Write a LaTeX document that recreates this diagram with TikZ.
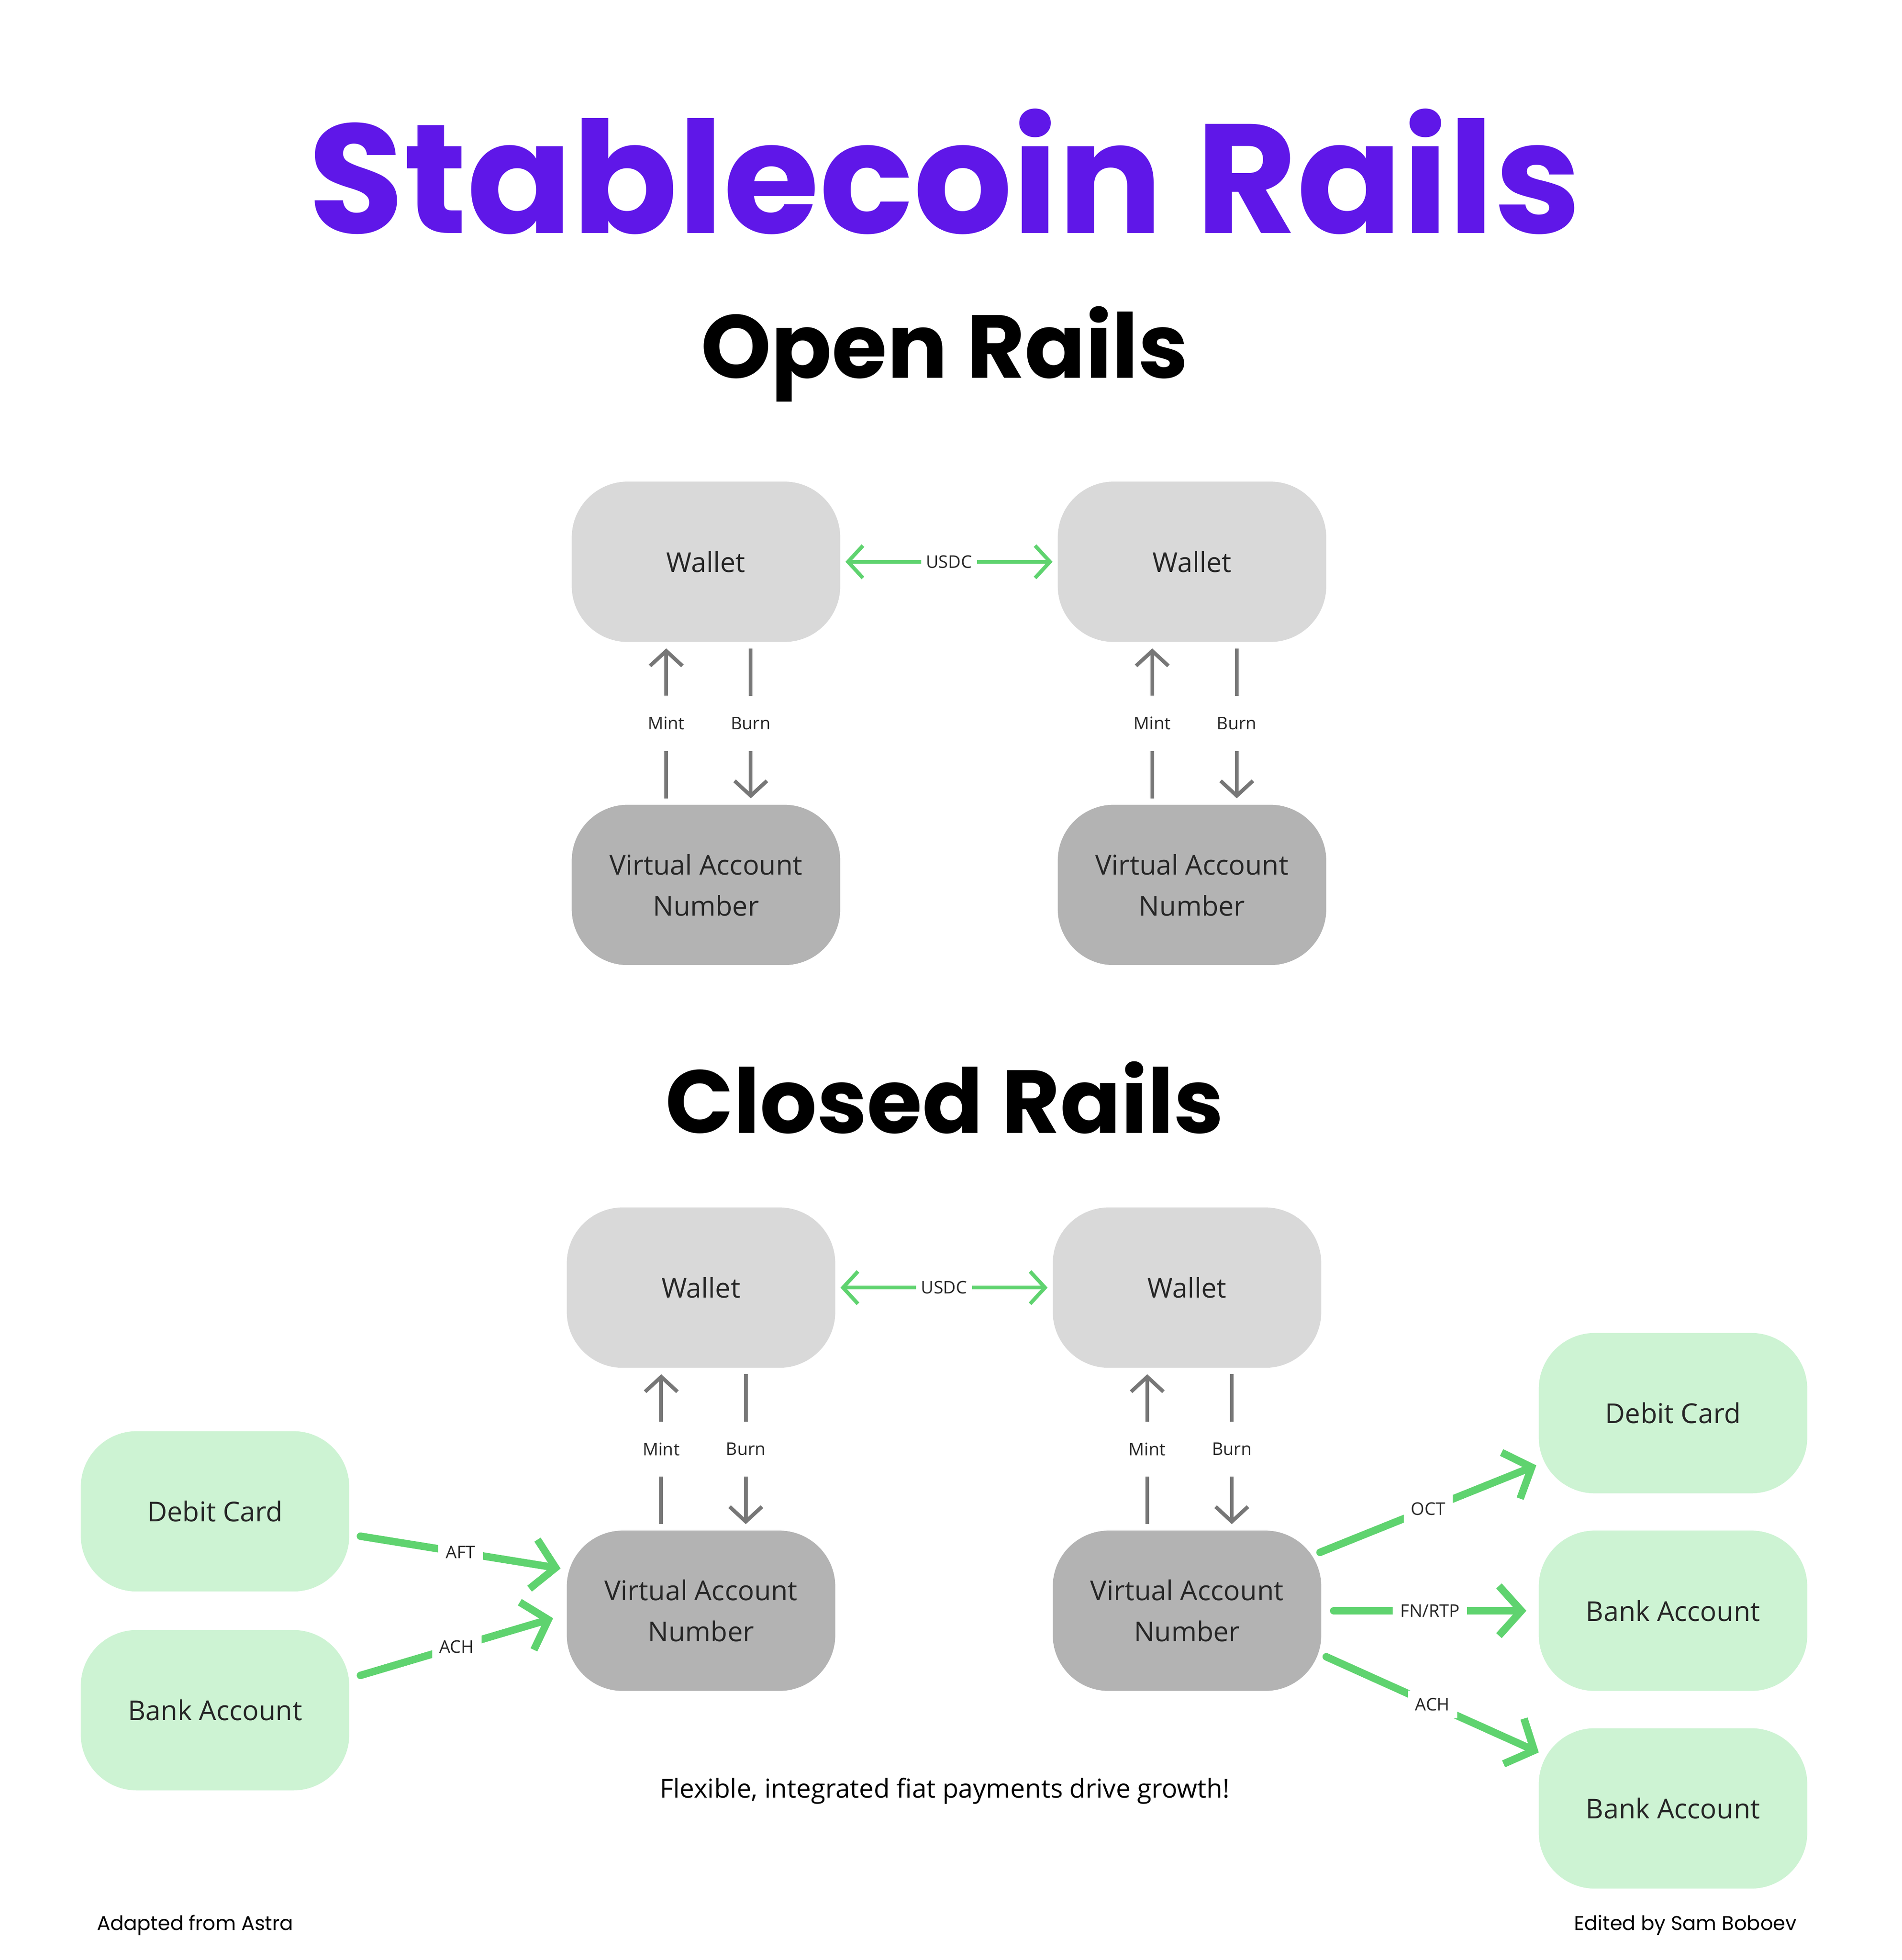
\documentclass[tikz,border=0pt]{standalone}
\usepackage{fontspec}
\setmainfont{Open Sans}
\newfontfamily\pop{Poppins}
\usetikzlibrary{arrows.meta}
\definecolor{purp}{HTML}{5F17E8}
\definecolor{wal}{HTML}{D9D9D9}
\definecolor{van}{HTML}{B3B3B3}
\definecolor{gbox}{HTML}{CDF3D3}
\definecolor{garr}{HTML}{5FD36F}
\definecolor{gray}{HTML}{777777}
\tikzset{
 box/.style={rounded corners=45pt,minimum width=216pt,minimum height=129pt,align=center,font=\fontsize{22}{33}\selectfont,text=black!85},
 wallet/.style={box,fill=wal},
 vanb/.style={box,fill=van},
 gb/.style={box,fill=gbox},
 gthin/.style={draw=garr,line width=3pt,-{Straight Barb[length=12pt,width=26pt]}},
 gray arr/.style={draw=gray,line width=3pt,-{Straight Barb[length=12pt,width=26pt]}},
 gthick/.style={draw=garr,line width=6pt,line cap=round,-{Straight Barb[length=18pt,width=40pt,line width=6pt]}},
 lab/.style={fill=white,inner sep=4pt,font=\fontsize{14}{16}\selectfont,text=black!85},
}
\begin{document}
\begin{tikzpicture}[x=1pt,y=-1pt]
\useasboundingbox[fill=white] (0,0) rectangle (1530,1577);
\node[font=\pop\bfseries\fontsize{125}{130}\selectfont,text=purp] (t) at (760,138) {Stablecoin Rails};
\node[font=\pop\bfseries\fontsize{72}{80}\selectfont] (o) at (760,285) {Open Rails};
\node[font=\pop\bfseries\fontsize{72}{80}\selectfont] (c) at (760,883) {Closed Rails};
\foreach \n/\x/\y in {a/568/452,b/959/452,c/564/1036,d/955/1036}{\node[wallet] (w\n) at (\x,\y) {Wallet};}
\foreach \n/\x/\y in {a/568/712,b/959/712,c/564/1296,d/955/1296}{\node[vanb] (v\n) at (\x,\y) {Virtual Account\\Number};}
\draw[gthin,{Straight Barb[length=12pt,width=26pt]}-{Straight Barb[length=12pt,width=26pt]}] ([xshift=4pt]wa.east) -- node[lab]{USDC} ([xshift=-4pt]wb.west);
\draw[gthin,{Straight Barb[length=12pt,width=26pt]}-{Straight Barb[length=12pt,width=26pt]}] ([xshift=4pt]wc.east) -- node[lab]{USDC} ([xshift=-4pt]wd.west);
\foreach \w/\v in {a/a,b/b,c/c,d/d}{
 \draw[gray arr] ([xshift=-32pt,yshift=5pt]v\v.north) -- node[lab,inner ysep=17pt]{Mint} ([xshift=-32pt,yshift=-5pt]w\w.south);
 \draw[gray arr] ([xshift=36pt,yshift=-5pt]w\w.south) -- node[lab,inner ysep=17pt]{Burn} ([xshift=36pt,yshift=5pt]v\v.north);
}
\node[gb] (dl) at (173,1216) {Debit Card};
\node[gb] (bl) at (173,1376) {Bank Account};
\node[gb] (dr) at (1346,1137) {Debit Card};
\node[gb] (br1) at (1346,1296) {Bank Account};
\node[gb] (br2) at (1346,1455) {Bank Account};
\coordinate (p1) at (290,1236); \coordinate (q1) at (451,1262);
\coordinate (p2) at (290,1348); \coordinate (q2) at (445,1302);
\coordinate (p3) at (1062,1249); \coordinate (q3) at (1236,1179);
\coordinate (p4) at (1073,1296); \coordinate (q4) at (1228,1296);
\coordinate (p5) at (1067,1333); \coordinate (q5) at (1238,1410);
\draw[gthick] (p1) -- node[lab,inner sep=6pt]{AFT} (q1);
\draw[gthick] (p2) -- node[lab,inner sep=6pt]{ACH} (q2);
\draw[gthick] (p3) -- node[lab,inner sep=6pt]{OCT} (q3);
\draw[gthick] (p4) -- node[lab,inner sep=6pt]{FN/RTP} (q4);
\draw[gthick] (p5) -- node[lab,inner sep=6pt]{ACH} (q5);
\node[font=\fontsize{21}{24}\selectfont] (cap) at (760,1441) {Flexible, integrated fiat payments drive growth!};
\node[font=\pop\fontsize{16}{18}\selectfont] (f1) at (157,1549) {Adapted from Astra};
\node[font=\pop\fontsize{16}{18}\selectfont] (f2) at (1356,1549) {Edited by Sam Boboev};
\end{tikzpicture}
\end{document}
